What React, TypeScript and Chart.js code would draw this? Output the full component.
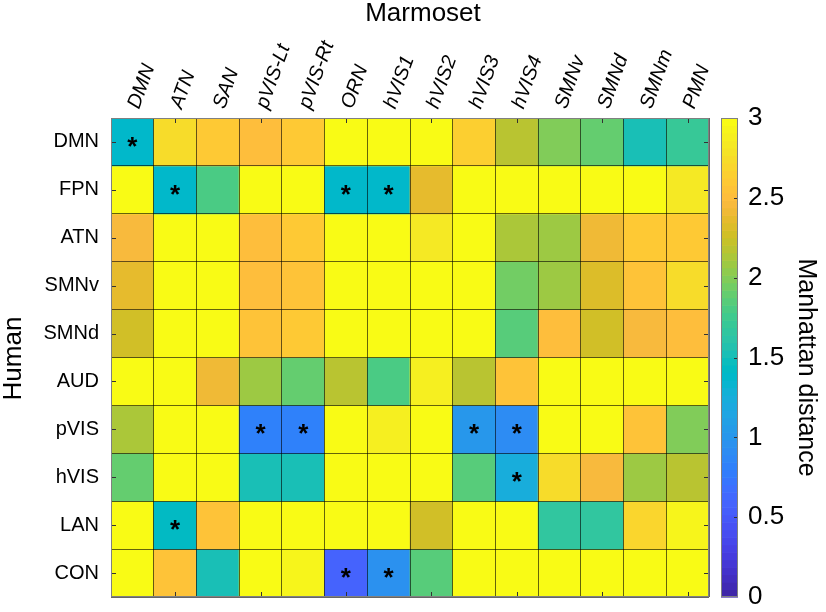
import React, { useEffect, useRef } from 'react';
import { Chart, registerables } from 'chart.js';

Chart.register(...registerables);

// ---- data ----
const humanNetworks = ['DMN', 'FPN', 'ATN', 'SMNv', 'SMNd', 'AUD', 'pVIS', 'hVIS', 'LAN', 'CON'];
const marmosetNetworks = ['DMN', 'ATN', 'SAN', 'pVIS-Lt', 'pVIS-Rt', 'ORN', 'hVIS1', 'hVIS2', 'hVIS3', 'hVIS4', 'SMNv', 'SMNd', 'SMNm', 'PMN'];

const distDMN = [1.4, 2.76, 2.62, 2.52, 2.6, 3, 3, 3, 2.65, 2.17, 2.0, 1.9, 1.52, 1.71];
const distFPN = [3, 1.38, 1.8, 3, 3, 1.38, 1.38, 2.35, 3, 3, 3, 3, 3, 2.83];
const distATN = [2.47, 3, 3, 2.52, 2.58, 3, 3, 2.85, 3, 2.14, 2.1, 2.4, 2.6, 2.6];
const distSMNv = [2.35, 3, 3, 2.52, 2.57, 3, 3, 3, 3, 1.93, 2.1, 2.32, 2.55, 2.72];
const distSMNd = [2.25, 3, 3, 2.55, 2.62, 3, 3, 3, 3, 1.85, 2.52, 2.27, 2.45, 2.52];
const distAUD = [3, 3, 2.43, 2.1, 1.92, 2.17, 1.8, 2.87, 2.17, 2.57, 3, 3, 3, 3];
const distPVIS = [2.12, 3, 3, 0.84, 0.84, 3, 2.9, 3, 1.02, 0.93, 3, 3, 2.57, 2.0];
const distHVIS = [1.9, 3, 3, 1.52, 1.52, 3, 3, 3, 1.83, 1.22, 2.72, 2.47, 2.1, 2.17];
const distLAN = [3, 1.43, 2.57, 3, 3, 3, 3, 2.28, 3, 3, 1.67, 1.67, 2.7, 2.92];
const distCON = [3, 2.55, 1.52, 3, 2.93, 0.6, 0.97, 1.83, 3, 3, 3, 3, 3, 3];

const distances = [distDMN, distFPN, distATN, distSMNv, distSMNd, distAUD, distPVIS, distHVIS, distLAN, distCON];

// [human row index, marmoset column index]
const significantCells: [number, number][] = [
  [0, 0], [1, 1], [1, 5], [1, 6], [6, 3], [6, 4], [6, 8], [6, 9], [7, 9], [8, 1], [9, 5], [9, 6],
];

const colorMin = 0;
const colorMax = 3;
const colorbarTicks = [0, 0.5, 1, 1.5, 2, 2.5, 3];

// ---- style ----
const FONT = "'Liberation Sans', Arial, Helvetica, sans-serif";
const GRID = 'rgba(0,0,0,0.6)';

const PARULA: number[][] = [
  [0.2422, 0.1504, 0.6603], [0.2504, 0.1650, 0.7076], [0.2578, 0.1818, 0.7511], [0.2647, 0.1978, 0.7952],
  [0.2706, 0.2147, 0.8364], [0.2751, 0.2342, 0.8710], [0.2783, 0.2559, 0.8991], [0.2803, 0.2782, 0.9221],
  [0.2813, 0.3006, 0.9414], [0.2810, 0.3228, 0.9579], [0.2795, 0.3447, 0.9717], [0.2760, 0.3667, 0.9829],
  [0.2699, 0.3892, 0.9906], [0.2602, 0.4123, 0.9952], [0.2440, 0.4358, 0.9988], [0.2206, 0.4603, 0.9973],
  [0.1963, 0.4847, 0.9892], [0.1834, 0.5074, 0.9798], [0.1786, 0.5289, 0.9682], [0.1764, 0.5499, 0.9520],
  [0.1687, 0.5703, 0.9359], [0.1540, 0.5902, 0.9218], [0.1460, 0.6091, 0.9079], [0.1380, 0.6276, 0.8973],
  [0.1248, 0.6459, 0.8883], [0.1113, 0.6635, 0.8763], [0.0952, 0.6798, 0.8598], [0.0689, 0.6948, 0.8394],
  [0.0297, 0.7082, 0.8163], [0.0036, 0.7203, 0.7917], [0.0067, 0.7312, 0.7660], [0.0433, 0.7411, 0.7394],
  [0.0964, 0.7500, 0.7120], [0.1408, 0.7584, 0.6842], [0.1717, 0.7670, 0.6554], [0.1938, 0.7758, 0.6251],
  [0.2161, 0.7843, 0.5923], [0.2470, 0.7918, 0.5567], [0.2906, 0.7973, 0.5188], [0.3406, 0.8008, 0.4789],
  [0.3909, 0.8029, 0.4354], [0.4456, 0.8024, 0.3909], [0.5044, 0.7993, 0.3480], [0.5616, 0.7942, 0.3045],
  [0.6174, 0.7876, 0.2612], [0.6720, 0.7793, 0.2227], [0.7242, 0.7698, 0.1910], [0.7738, 0.7598, 0.1646],
  [0.8203, 0.7498, 0.1535], [0.8634, 0.7406, 0.1596], [0.9035, 0.7330, 0.1774], [0.9393, 0.7288, 0.2100],
  [0.9728, 0.7298, 0.2394], [0.9956, 0.7434, 0.2371], [0.9970, 0.7659, 0.2199], [0.9952, 0.7893, 0.2028],
  [0.9892, 0.8136, 0.1885], [0.9786, 0.8386, 0.1766], [0.9676, 0.8639, 0.1643], [0.9610, 0.8890, 0.1537],
  [0.9597, 0.9135, 0.1423], [0.9628, 0.9373, 0.1265], [0.9691, 0.9606, 0.1064], [0.9769, 0.9839, 0.0805],
];

function parulaIndexColor(k: number): string {
  const c = PARULA[Math.max(0, Math.min(PARULA.length - 1, k))];
  return `rgb(${Math.round(c[0] * 255)},${Math.round(c[1] * 255)},${Math.round(c[2] * 255)})`;
}

function valueColor(v: number): string {
  const t = Math.max(0, Math.min(1, (v - colorMin) / (colorMax - colorMin)));
  return parulaIndexColor(Math.min(PARULA.length - 1, Math.floor(t * PARULA.length)));
}

function fixBox(prop: 'width' | 'height', size: number) {
  return (s: any) => {
    s[prop] = size;
    s.paddingTop = 0;
    s.paddingBottom = 0;
    s.paddingLeft = 0;
    s.paddingRight = 0;
  };
}

const decorPlugin = {
  id: 'heatmapDecor',
  afterDraw(chart: any) {
    const { ctx, chartArea: ca, scales } = chart;
    const xs = scales.x;
    const ys = scales.y;
    const cb = scales.cb;
    ctx.save();

    // significance stars
    ctx.fillStyle = '#000';
    ctx.font = `bold 26px ${FONT}`;
    ctx.textAlign = 'center';
    ctx.textBaseline = 'alphabetic';
    const m = ctx.measureText('*');
    const starShift = (m.actualBoundingBoxAscent - m.actualBoundingBoxDescent) / 2;
    significantCells.forEach(([r, c]) => {
      const cx = xs.getPixelForValue(c);
      const cy = ys.getPixelForValue(r + 0.5);
      ctx.fillText('*', cx, cy + starShift);
    });

    // inward tick marks
    ctx.strokeStyle = '#333';
    ctx.lineWidth = 1;
    ctx.beginPath();
    humanNetworks.forEach((_, r) => {
      const py = Math.round(ys.getPixelForValue(r + 0.5)) + 0.5;
      ctx.moveTo(ca.left, py); ctx.lineTo(ca.left + 5, py);
      ctx.moveTo(ca.right, py); ctx.lineTo(ca.right - 5, py);
    });
    marmosetNetworks.forEach((_, c) => {
      if (c % 2 === 1) {
        const px = Math.round(xs.getPixelForValue(c)) + 0.5;
        ctx.moveTo(px, ca.top); ctx.lineTo(px, ca.top + 5);
        ctx.moveTo(px, ca.bottom); ctx.lineTo(px, ca.bottom - 5);
      }
    });
    ctx.stroke();

    // axes box
    ctx.strokeStyle = '#808080';
    ctx.strokeRect(Math.round(ca.left) + 0.5, Math.round(ca.top) + 0.5,
      Math.round(ca.right - ca.left) - 1, Math.round(ca.bottom - ca.top) - 1);

    // colorbar
    const cbL = ca.right + 12;
    const cbR = ca.right + 29;
    const n = PARULA.length;
    for (let k = 0; k < n; k++) {
      const v0 = colorMin + (k / n) * (colorMax - colorMin);
      const v1 = colorMin + ((k + 1) / n) * (colorMax - colorMin);
      const p0 = cb.getPixelForValue(v0);
      const p1 = cb.getPixelForValue(v1);
      ctx.fillStyle = parulaIndexColor(k);
      ctx.fillRect(cbL, p1, cbR - cbL, p0 - p1 + 0.6);
    }
    ctx.strokeStyle = '#808080';
    const cbTop = cb.getPixelForValue(colorMax);
    const cbBot = cb.getPixelForValue(colorMin);
    ctx.strokeRect(Math.round(cbL) + 0.5, Math.round(cbTop) + 0.5, Math.round(cbR - cbL) - 1, Math.round(cbBot - cbTop) - 1);
    ctx.strokeStyle = '#333';
    ctx.beginPath();
    colorbarTicks.forEach((t) => {
      if (t === colorMin || t === colorMax) return;
      const py = Math.round(cb.getPixelForValue(t)) + 0.5;
      ctx.moveTo(cbR - 1, py); ctx.lineTo(cbR - 4, py);
    });
    ctx.stroke();

    // titles
    ctx.fillStyle = '#000';
    ctx.textBaseline = 'middle';
    ctx.textAlign = 'center';
    ctx.font = `26px ${FONT}`;
    ctx.fillText('Marmoset', (ca.left + ca.right) / 2 + 13, 14);

    ctx.save();
    ctx.translate(14, (ca.top + ca.bottom) / 2 + 1);
    ctx.rotate(-Math.PI / 2);
    ctx.fillText('Human', 0, 0);
    ctx.restore();

    ctx.save();
    ctx.font = `25px ${FONT}`;
    ctx.translate(806, (ca.top + ca.bottom) / 2 + 10);
    ctx.rotate(Math.PI / 2);
    ctx.fillText('Manhattan distance', 0, 0);
    ctx.restore();

    ctx.restore();
  },
};

export default function App() {
  const canvasRef = useRef<HTMLCanvasElement | null>(null);

  useEffect(() => {
    const canvas = canvasRef.current;
    if (!canvas) return;

    const datasets = humanNetworks.map((name, r) => ({
      label: name,
      data: marmosetNetworks.map(() => 1),
      backgroundColor: distances[r].map((v) => valueColor(v)),
      borderWidth: 0,
      stack: 'cells',
      xAxisID: 'x',
      yAxisID: 'y',
      barPercentage: 1,
      categoryPercentage: 1,
    }));

    const chart = new Chart(canvas, {
      type: 'bar',
      data: { labels: marmosetNetworks, datasets },
      plugins: [decorPlugin],
      options: {
        responsive: false,
        animation: false,
        devicePixelRatio: 1,
        layout: { padding: { left: 0, top: 0, right: 0, bottom: 15 } },
        plugins: { legend: { display: false }, tooltip: { enabled: false } },
        scales: {
          x: {
            type: 'category',
            position: 'top',
            offset: true,
            grid: { offset: true, drawTicks: false, color: GRID, lineWidth: 1, z: 1 },
            border: { display: false },
            ticks: {
              autoSkip: false,
              minRotation: 70,
              maxRotation: 70,
              labelOffset: 24,
              color: '#000',
              padding: 6,
              font: { family: FONT, size: 20, style: 'italic' },
            },
            afterFit: fixBox('height', 118),
          },
          y: {
            type: 'linear',
            position: 'left',
            reverse: true,
            stacked: true,
            min: 0,
            max: humanNetworks.length,
            ticks: { display: false, stepSize: 1 },
            grid: { drawTicks: false, color: GRID, lineWidth: 1, z: 1 },
            border: { display: false },
            afterFit: fixBox('width', 0),
          },
          yLabels: {
            type: 'category',
            position: 'left',
            labels: humanNetworks,
            offset: true,
            grid: { display: false, drawTicks: false },
            border: { display: false },
            ticks: { color: '#000', padding: 12, font: { family: FONT, size: 20 } },
            afterFit: fixBox('width', 111),
          },
          cb: {
            type: 'linear',
            position: 'right',
            min: colorMin,
            max: colorMax,
            afterBuildTicks: (s: any) => { s.ticks = colorbarTicks.map((v) => ({ value: v })); },
            ticks: {
              color: '#000',
              padding: 39,
              font: { family: FONT, size: 26 },
              callback: (v: any) => String(v),
            },
            grid: { display: false, drawTicks: false },
            border: { display: false },
            afterFit: fixBox('width', 117),
          },
        },
      } as any,
    });

    return () => chart.destroy();
  }, []);

  return (
    <div style={{ position: 'absolute', left: 0, top: 0, width: 826, height: 612, background: '#fff' }}>
      <canvas ref={canvasRef} width={826} height={612} style={{ display: 'block' }} />
    </div>
  );
}
